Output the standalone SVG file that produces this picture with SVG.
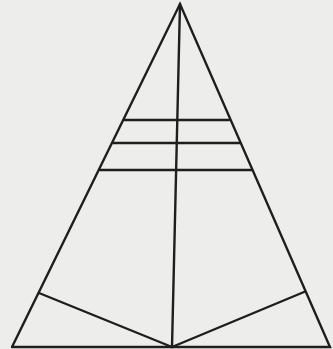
<svg xmlns="http://www.w3.org/2000/svg" width="333" height="349" viewBox="0 0 333 349">
<style>
line,polyline{stroke:#1e1e1e;stroke-width:2.4;fill:none;stroke-linecap:round;stroke-linejoin:miter}
</style>
<rect width="333" height="349" fill="#ededeb"/>
<g id="outline">
<polyline points="12,347 180,4 330,347 12,347"/>
</g>
<g id="connectors">
<line x1="180" y1="4" x2="172" y2="347"/>
<line x1="124" y1="120" x2="229" y2="120"/>
<line x1="113" y1="143" x2="240" y2="143"/>
<line x1="100" y1="170" x2="252" y2="170"/>
<line x1="39" y1="293" x2="172" y2="347"/>
<line x1="304" y1="292" x2="172" y2="347"/>
</g>
</svg>
